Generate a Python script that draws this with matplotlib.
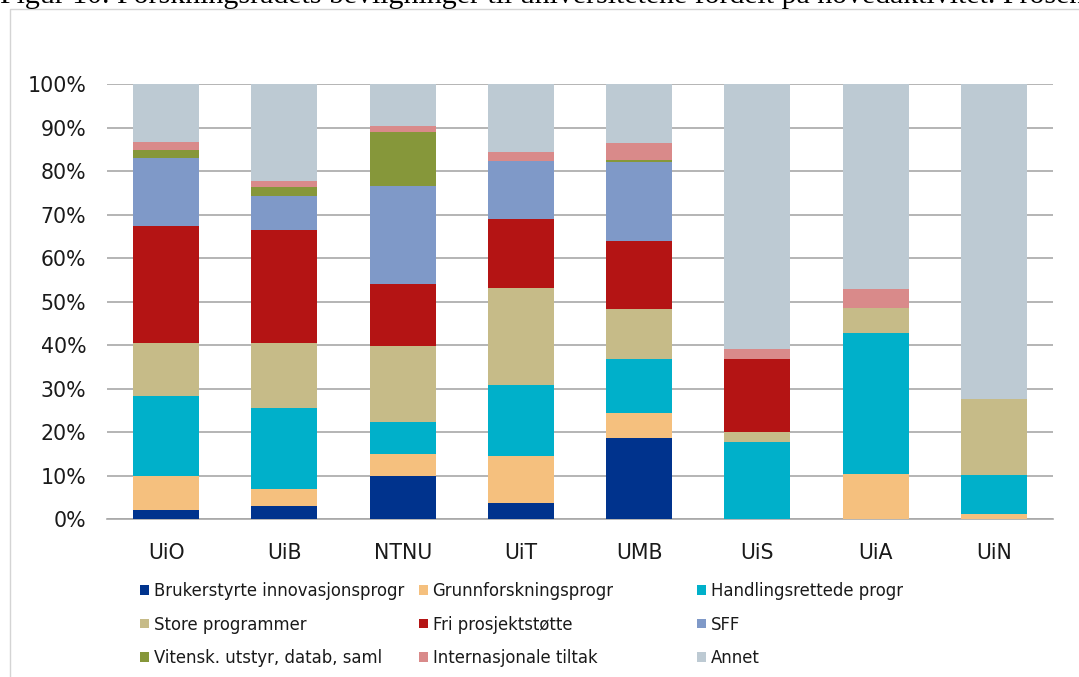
import matplotlib
matplotlib.use("Agg")
import matplotlib.pyplot as plt
from matplotlib.patches import Patch, Rectangle
import numpy as np

W, H = 1079, 677

categories = ["UiO", "UiB", "NTNU", "UiT", "UMB", "UiS", "UiA", "UiN"]
series_names = [
    "Brukerstyrte innovasjonsprogr",
    "Grunnforskningsprogr",
    "Handlingsrettede progr",
    "Store programmer",
    "Fri prosjektstøtte",
    "SFF",
    "Vitensk. utstyr, datab, saml",
    "Internasjonale tiltak",
    "Annet",
]
brukerstyrte = [2.0, 3.1, 10.0, 3.7, 18.7, 0.0, 0.0, 0.0]
grunnforskning = [8.0, 3.9, 5.0, 10.9, 5.6, 0.0, 10.4, 1.2]
handlingsrettede = [18.3, 18.5, 7.4, 16.2, 12.4, 17.6, 32.3, 9.0]
store_programmer = [12.1, 15.1, 17.3, 22.3, 11.6, 2.3, 5.8, 17.5]
fri_prosjektstotte = [27.1, 25.8, 14.3, 15.8, 15.7, 17.0, 0.0, 0.0]
sff = [15.6, 8.0, 22.5, 13.5, 18.2, 0.0, 0.0, 0.0]
vitensk = [1.8, 1.9, 12.6, 0.0, 0.5, 0.0, 0.0, 0.0]
internasjonale = [1.9, 1.5, 1.4, 2.0, 3.9, 2.1, 4.5, 0.0]
annet = [13.2, 22.2, 9.5, 15.6, 13.4, 61.0, 47.0, 72.3]
yticks = [0, 10, 20, 30, 40, 50, 60, 70, 80, 90, 100]
ytick_labels = ["0%", "10%", "20%", "30%", "40%", "50%", "60%", "70%", "80%", "90%", "100%"]
caption = "Figur 10. Forskningsrådets bevilgninger til universitetene fordelt på hovedaktivitet. Prosent"

series = [brukerstyrte, grunnforskning, handlingsrettede, store_programmer,
          fri_prosjektstotte, sff, vitensk, internasjonale, annet]
colors = ["#00338D", "#F5C07E", "#00B0CA", "#C6BB88", "#B41414",
          "#7F99C8", "#86973A", "#D98A8A", "#BDCAD3"]

plt.rcParams['font.family'] = ['DejaVu Sans']

fig = plt.figure(figsize=(W / 100, H / 100), dpi=100)
fig.patch.set_facecolor("white")

# outer frame of the chart area
fig.patches.append(Rectangle((10, H - 9 - 800), 1200, 800, transform=None,
                             fill=False, edgecolor="#D4D4D4", linewidth=1.0))

ax = fig.add_axes([107 / W, 1 - 519 / H, (1053 - 107) / W, (519 - 84.3) / H])
x = np.arange(len(categories))
bottom = np.zeros(len(categories))
handles = []
for name, vals, c in zip(series_names, series, colors):
    v = np.array(vals)
    ax.bar(x, v, bottom=bottom, width=0.56, color=c, linewidth=0, zorder=3)
    bottom += v
    handles.append(Patch(facecolor=c, edgecolor="none", label=name))

ax.set_xlim(-0.5, len(categories) - 0.5)
ax.set_ylim(0, 100)
ax.set_yticks(yticks)
ax.set_yticklabels(ytick_labels)
ax.set_xticks(x)
ax.set_xticklabels(categories)
ax.yaxis.grid(True, color="#A8A8A8", linewidth=1.2, zorder=0)
ax.set_axisbelow(True)
for s in ["left", "right", "top"]:
    ax.spines[s].set_visible(False)
ax.spines["bottom"].set_color("#A8A8A8")
ax.spines["bottom"].set_linewidth(1.2)
ax.tick_params(axis="both", length=0, labelsize=14.8, colors="#1a1a1a")
ax.tick_params(axis="y", pad=15)
ax.tick_params(axis="x", pad=17)

# legend: three columns, each a separate legend for exact positioning
col_x = [140, 419, 697]
fs = 11.9
for ci in range(3):
    hs = [handles[ci + 3 * r] for r in range(3)]
    leg = fig.legend(handles=hs, loc="upper left",
                     bbox_to_anchor=(col_x[ci] / W, 1 - 582 / H),
                     frameon=False, borderpad=0, borderaxespad=0,
                     handlelength=0.52, handleheight=0.52, handletextpad=0.3,
                     labelspacing=0.94, fontsize=fs)
    for t in leg.get_texts():
        t.set_color("#1a1a1a")

# caption partially cut off at the top of the picture
cap = fig.text(0, 1 - 3.3 / H, caption, family="Liberation Serif", fontsize=15,
               va="baseline", ha="left", color="black")
fig.canvas.draw()
r = fig.canvas.get_renderer()
pre = fig.text(0, 0, caption[:-2], family="Liberation Serif", fontsize=15)
wpre = pre.get_window_extent(r).width
pre.remove()
cap.set_fontsize(15 * 1077 / wpre)

fig.savefig("out.png", dpi=100, facecolor="white")
